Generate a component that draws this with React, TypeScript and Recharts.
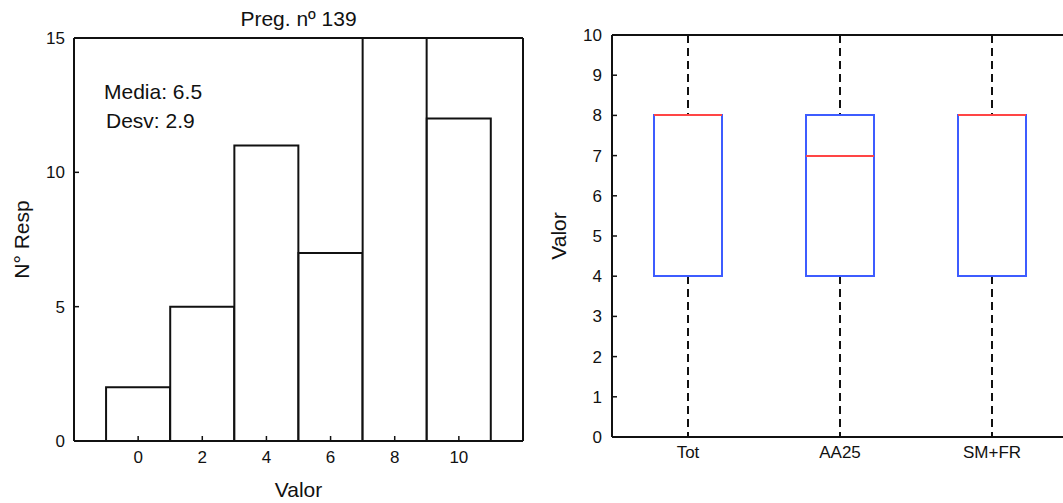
import React from "react";
import { BarChart, ComposedChart, Bar, XAxis, YAxis } from "recharts";

// histogram (Preg. nº 139)
const histBins = [0, 2, 4, 6, 8, 10];
const histCounts = [2, 5, 11, 7, 15, 12];
const histTicksX = [0, 2, 4, 6, 8, 10];
const histTicksY = [0, 5, 10, 15];

// box plot per group
const boxGroups = ["Tot", "AA25", "SM+FR"];
const boxMin = [0, 0, 0];
const boxQ1 = [4, 4, 4];
const boxMedian = [8, 7, 8];
const boxQ3 = [8, 8, 8];
const boxMax = [10, 10, 10];
const boxTicksY = [0, 1, 2, 3, 4, 5, 6, 7, 8, 9, 10];

const histData = histBins.map((v, i) => ({ valor: v, count: histCounts[i] }));
const boxData = boxGroups.map((name, i) => ({
  name,
  min: boxMin[i],
  q1: boxQ1[i],
  median: boxMedian[i],
  q3: boxQ3[i],
  max: boxMax[i],
}));

const ink = "#111";
const axisLine = { stroke: ink, strokeWidth: 2 };
const tickLine = { stroke: ink, strokeWidth: 1.5 };
const tickText = { fontSize: 17, fill: ink };
const labelStyle = { fontSize: 21, fill: ink, textAnchor: "middle" as const };

const BoxShape = (props: any) => {
  const { x, y, width, height, payload } = props;
  if (x == null || y == null || !payload) return null;
  const top = Math.min(y, y + height);
  const span = Math.abs(height);
  const { min, q1, median, q3, max } = payload;
  // map values onto the bar's pixel span (min..max), snapped to whole pixels
  const toY = (v: number) => Math.round(top + (span * (max - v)) / (max - min));
  const left = Math.round(x);
  const w = Math.round(width);
  const cx = left + Math.round(w / 2);
  return (
    <g>
      <line x1={cx} x2={cx} y1={toY(max)} y2={toY(q3)} stroke={ink} strokeWidth={2} strokeDasharray="8 5" />
      <line x1={cx} x2={cx} y1={toY(q1)} y2={toY(min)} stroke={ink} strokeWidth={2} strokeDasharray="8 5" />
      <rect x={left} y={toY(q3)} width={w} height={toY(q1) - toY(q3)} fill="none" stroke="#3d5cff" strokeWidth={2} />
      <line x1={left} x2={left + w} y1={toY(median)} y2={toY(median)} stroke="#ff4545" strokeWidth={2} />
    </g>
  );
};

const textBox = (left: number, top: number, text: string, width?: number) => (
  <div
    style={{
      position: "absolute",
      left,
      top,
      width,
      textAlign: width ? "center" : "left",
      fontSize: 21,
      lineHeight: "20px",
      color: ink,
      whiteSpace: "nowrap",
    }}
  >
    {text}
  </div>
);

export default function App() {
  return (
    <div
      style={{
        position: "absolute",
        left: 0,
        top: 0,
        width: 1063,
        height: 503,
        overflow: "hidden",
        background: "#fff",
        fontFamily: "'Liberation Sans', Arial, sans-serif",
      }}
    >
      <div style={{ position: "absolute", left: 0, top: 0 }}>
        <BarChart
          width={530}
          height={503}
          data={histData}
          margin={{ top: 38, right: 7, bottom: 0, left: 0 }}
          barCategoryGap={0}
          barGap={0}
        >
          <XAxis
            dataKey="valor"
            type="number"
            domain={[-2, 12]}
            ticks={histTicksX}
            interval={0}
            height={62}
            axisLine={axisLine}
            tickLine={tickLine}
            tickSize={-5}
            tickMargin={15}
            tick={tickText}
            label={{ value: "Valor", position: "insideBottom", offset: 6, style: labelStyle }}
          />
          <XAxis
            xAxisId="top"
            orientation="top"
            mirror
            dataKey="valor"
            type="number"
            domain={[-2, 12]}
            allowDataOverflow
            ticks={histTicksX}
            interval={0}
            axisLine={axisLine}
            tickLine={tickLine}
            tickSize={5}
            tick={false}
          />
          <YAxis
            width={74}
            domain={[0, 15]}
            ticks={histTicksY}
            interval={0}
            axisLine={axisLine}
            tickLine={tickLine}
            tickSize={-5}
            tickMargin={14}
            tick={tickText}
            label={{ value: "N° Resp", angle: -90, position: "insideLeft", offset: 22, style: labelStyle }}
          />
          <YAxis
            yAxisId="right"
            orientation="right"
            mirror
            domain={[0, 15]}
            allowDataOverflow
            ticks={histTicksY}
            interval={0}
            axisLine={axisLine}
            tickLine={tickLine}
            tickSize={5}
            tick={false}
          />
          <Bar
            dataKey="count"
            barSize={64}
            fill="#fff"
            stroke={ink}
            strokeWidth={2}
            isAnimationActive={false}
          />
        </BarChart>
        {textBox(74, 9, "Preg. nº 139", 449)}
        {textBox(104, 82, "Media: 6.5")}
        {textBox(106, 111, "Desv: 2.9")}
      </div>

      <div style={{ position: "absolute", left: 530, top: 0 }}>
        <ComposedChart
          width={545}
          height={503}
          data={boxData}
          margin={{ top: 35, right: 7, bottom: 0, left: 0 }}
        >
          <XAxis
            dataKey="name"
            type="category"
            interval={0}
            height={66}
            axisLine={axisLine}
            tickLine={tickLine}
            tickSize={-5}
            tickMargin={14}
            tick={tickText}
          />
          <XAxis
            xAxisId="top"
            orientation="top"
            mirror
            dataKey="name"
            type="category"
            interval={0}
            axisLine={axisLine}
            tickLine={tickLine}
            tickSize={5}
            tick={false}
          />
          <YAxis
            width={82}
            domain={[0, 10]}
            ticks={boxTicksY}
            interval={0}
            axisLine={axisLine}
            tickLine={tickLine}
            tickSize={-5}
            tickMargin={15}
            tick={tickText}
            label={{ value: "Valor", angle: -90, position: "insideLeft", offset: 29, style: labelStyle }}
          />
          <YAxis
            yAxisId="right"
            orientation="right"
            mirror
            domain={[0, 10]}
            allowDataOverflow
            ticks={boxTicksY}
            interval={0}
            axisLine={axisLine}
            tickLine={tickLine}
            tickSize={5}
            tick={false}
          />
          <Bar
            dataKey={(d: any) => [d.min, d.max]}
            barSize={68}
            shape={BoxShape}
            isAnimationActive={false}
          />
        </ComposedChart>
      </div>
    </div>
  );
}
